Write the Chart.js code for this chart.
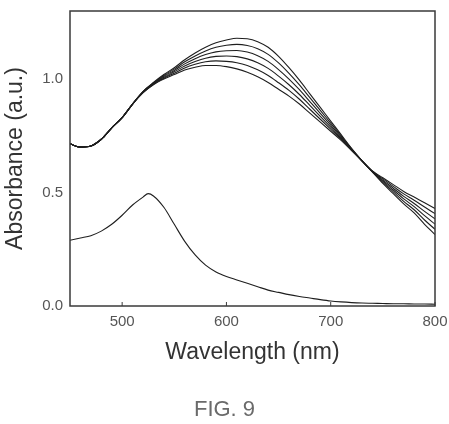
<!DOCTYPE html>
<html>
<head>
<meta charset="utf-8">
<script src="https://cdn.jsdelivr.net/npm/chart.js@4.4.1/dist/chart.umd.min.js"></script>
<style>
  html, body { margin: 0; padding: 0; background: #ffffff; }
  #wrap { width: 449px; height: 424px; }
</style>
</head>
<body>
<div id="wrap"><canvas id="c" width="449" height="424"></canvas></div>
<script>
// ---- data ----
const wavelengths = [450,460,470,480,490,500,510,520,530,540,550,560,570,580,590,600,610,620,630,640,650,660,670,680,690,700,710,720,730,740,750,760,770,780,790,800];

const auWavelengths = [450,460,470,480,490,500,510,520,525,530,540,550,560,570,580,590,600,610,620,630,640,650,660,670,680,690,700,710,720,730,740,750,760,770,780,790,800];
const auAbsorbance = [0.29,0.30,0.31,0.33,0.36,0.40,0.445,0.48,0.495,0.485,0.435,0.36,0.285,0.225,0.18,0.15,0.13,0.115,0.10,0.085,0.07,0.06,0.05,0.042,0.035,0.028,0.022,0.018,0.015,0.013,0.012,0.011,0.010,0.010,0.009,0.009,0.008];

const curve1 = [0.715,0.70,0.705,0.735,0.785,0.83,0.89,0.94,0.975,1.0,1.02,1.04,1.052,1.06,1.06,1.055,1.045,1.03,1.01,0.985,0.955,0.925,0.89,0.85,0.81,0.77,0.73,0.685,0.64,0.595,0.565,0.535,0.505,0.48,0.455,0.43];
const curve2 = [0.715,0.70,0.705,0.735,0.785,0.83,0.89,0.94,0.977,1.004,1.026,1.049,1.065,1.076,1.08,1.078,1.072,1.06,1.041,1.016,0.984,0.95,0.911,0.867,0.823,0.779,0.735,0.687,0.64,0.594,0.56,0.527,0.494,0.466,0.436,0.407];
const curve3 = [0.715,0.70,0.705,0.735,0.785,0.83,0.89,0.94,0.979,1.008,1.032,1.058,1.077,1.092,1.10,1.102,1.099,1.089,1.072,1.047,1.013,0.975,0.932,0.884,0.836,0.788,0.74,0.689,0.64,0.593,0.555,0.519,0.483,0.452,0.417,0.384];
const curve4 = [0.715,0.70,0.705,0.735,0.785,0.83,0.89,0.945,0.981,1.012,1.038,1.067,1.09,1.108,1.12,1.125,1.126,1.119,1.103,1.078,1.042,1.0,0.953,0.901,0.849,0.797,0.745,0.691,0.64,0.592,0.55,0.511,0.472,0.438,0.398,0.361];
const curve5 = [0.715,0.70,0.705,0.735,0.785,0.83,0.89,0.945,0.983,1.016,1.044,1.076,1.102,1.124,1.14,1.149,1.153,1.148,1.134,1.109,1.071,1.025,0.974,0.918,0.862,0.806,0.75,0.693,0.64,0.591,0.545,0.503,0.461,0.424,0.379,0.338];
const curve6 = [0.715,0.70,0.705,0.735,0.785,0.83,0.89,0.945,0.985,1.02,1.05,1.085,1.115,1.14,1.16,1.172,1.18,1.178,1.165,1.14,1.10,1.05,0.995,0.935,0.875,0.815,0.755,0.695,0.64,0.59,0.54,0.495,0.45,0.41,0.36,0.315];

const xTicks = [500, 600, 700, 800];
const yTicks = [0.0, 0.5, 1.0];
const xTitle = 'Wavelength (nm)';
const yTitle = 'Absorbance (a.u.)';
const figLabel = 'FIG. 9';

// ---- build ----
const FONT = "'Liberation Sans', Arial, Helvetica, sans-serif";
function pts(xs, ys) { return xs.map((x, i) => ({ x: x, y: ys[i] })); }
const lineStyle = { borderColor: '#1e1e1e', borderWidth: 1.1, pointRadius: 0, fill: false, cubicInterpolationMode: 'monotone' };

const datasets = [
  Object.assign({ label: 'Au', data: pts(auWavelengths, auAbsorbance) }, lineStyle),
  ...[curve1, curve2, curve3, curve4, curve5, curve6].map((c, i) =>
    Object.assign({ label: 'c' + (i + 1), data: pts(wavelengths, c) }, lineStyle))
];

const framePlugin = {
  id: 'frame',
  afterDatasetsDraw(chart) {
    const { ctx, chartArea: a, scales } = chart;
    ctx.save();
    ctx.strokeStyle = '#3a3a3a';
    ctx.lineWidth = 1.5;
    ctx.strokeRect(a.left, a.top, a.right - a.left, a.bottom - a.top);
    ctx.lineWidth = 1;
    xTicks.forEach(v => {
      const px = scales.x.getPixelForValue(v);
      ctx.beginPath(); ctx.moveTo(px, a.bottom); ctx.lineTo(px, a.bottom - 4); ctx.stroke();
    });
    ctx.restore();
  }
};

new Chart(document.getElementById('c'), {
  type: 'line',
  data: { datasets: datasets },
  plugins: [framePlugin],
  options: {
    responsive: false,
    animation: false,
    layout: { padding: { left: 0, right: 0, top: 11, bottom: 1 } },
    plugins: {
      legend: { display: false },
      tooltip: { enabled: false },
      title: {
        display: true, text: figLabel, position: 'bottom', color: '#6a6a6a',
        font: { family: FONT, size: 22, weight: 'normal', lineHeight: 1.2 },
        padding: { top: 19, bottom: 0 }
      }
    },
    scales: {
      x: {
        type: 'linear', min: 450, max: 800,
        grid: { display: false, drawTicks: false },
        border: { display: false },
        afterBuildTicks: s => { s.ticks = xTicks.map(v => ({ value: v })); },
        afterFit: s => { s.height = 71.6; s.paddingLeft = 0; s.paddingRight = 14; },
        ticks: { color: '#555', padding: 7, maxRotation: 0, font: { family: FONT, size: 15 }, callback: v => String(v) },
        title: { display: true, text: xTitle, color: '#333', font: { family: FONT, size: 23, lineHeight: 1.2 }, padding: { top: 8, bottom: 10.8 } }
      },
      y: {
        type: 'linear', min: 0, max: 1.3,
        grid: { display: false, drawTicks: false },
        border: { display: false },
        afterBuildTicks: s => { s.ticks = yTicks.map(v => ({ value: v })); },
        afterFit: s => { s.width = 70; s.paddingTop = 0; s.paddingBottom = 0; },
        ticks: { color: '#555', padding: 7, font: { family: FONT, size: 15 }, callback: v => Number(v).toFixed(1) },
        title: { display: true, text: yTitle, color: '#333', font: { family: FONT, size: 23, lineHeight: 1.2 }, padding: { top: 2, bottom: 0 } }
      }
    }
  }
});
</script>
</body>
</html>
